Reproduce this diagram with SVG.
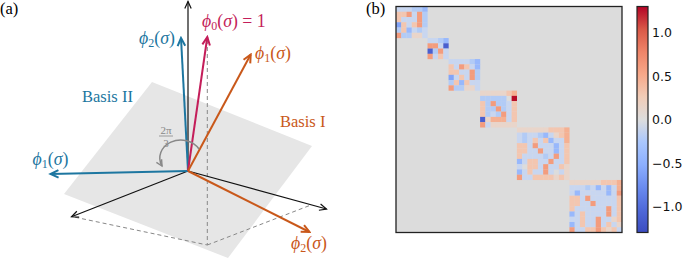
<svg xmlns="http://www.w3.org/2000/svg" width="685" height="258" viewBox="0 0 685 258">
<style>
.lab{font-family:"Liberation Serif","DejaVu Serif",serif;font-size:16.5px}
.phi{font-family:"Liberation Serif","DejaVu Serif",serif;font-size:17.8px}
.it{font-style:italic}
.sub{font-size:12px}
.tick{font-family:"DejaVu Sans","Liberation Sans",sans-serif;font-size:12.5px;fill:#111}
.ax{stroke:#111;stroke-width:1.2;fill:none}
.dash{stroke:#888;stroke-width:1;stroke-dasharray:4 3;fill:none}
.vb{stroke:#1d76a0;stroke-width:2;fill:none}
.vm{stroke:#c41e5a;stroke-width:2;fill:none}
.vo{stroke:#c9581a;stroke-width:2;fill:none}
.blk rect{width:1.02px;height:1.02px}
.q{fill:#e9d5ca}.p{fill:#f3c6b0}.h{fill:#f5b092}.o{fill:#f39c7e}.R{fill:#b70d28}
.l{fill:#c8d6f0}.m{fill:#b2cbf6}.n{fill:#98b8fc}.u{fill:#82a4f8}.D{fill:#4a5fcf}
</style>
<defs>
<marker id="mk" viewBox="-10 -6 12 12" refX="0" refY="0" markerWidth="12" markerHeight="12" orient="auto" markerUnits="userSpaceOnUse"><path d="M-7,-3.2 L0,0 L-7,3.2" fill="none" stroke="#111" stroke-width="1.2"/></marker>
<marker id="mb" viewBox="-10 -6 12 12" refX="0" refY="0" markerWidth="12" markerHeight="12" orient="auto" markerUnits="userSpaceOnUse"><path d="M-8,-3.8 L0,0 L-8,3.8" fill="none" stroke="#1d76a0" stroke-width="2"/></marker>
<marker id="mm" viewBox="-10 -6 12 12" refX="0" refY="0" markerWidth="12" markerHeight="12" orient="auto" markerUnits="userSpaceOnUse"><path d="M-8,-3.8 L0,0 L-8,3.8" fill="none" stroke="#c41e5a" stroke-width="2"/></marker>
<marker id="mo" viewBox="-10 -6 12 12" refX="0" refY="0" markerWidth="12" markerHeight="12" orient="auto" markerUnits="userSpaceOnUse"><path d="M-8,-3.8 L0,0 L-8,3.8" fill="none" stroke="#c9581a" stroke-width="2"/></marker>
<marker id="mg" viewBox="-10 -6 12 12" refX="0" refY="0" markerWidth="12" markerHeight="12" orient="auto" markerUnits="userSpaceOnUse"><path d="M-6,-3 L0,0 L-6,3" fill="none" stroke="#888" stroke-width="1.4"/></marker>
<linearGradient id="cw" x1="0" y1="1" x2="0" y2="0">
<stop offset="0" stop-color="#3b4cc0"/><stop offset="0.1" stop-color="#4f69d9"/><stop offset="0.2" stop-color="#6a8bef"/><stop offset="0.3" stop-color="#8caffe"/><stop offset="0.4" stop-color="#aac7fd"/><stop offset="0.5" stop-color="#dddddd"/><stop offset="0.6" stop-color="#f1ccb7"/><stop offset="0.7" stop-color="#f7a889"/><stop offset="0.8" stop-color="#ee8468"/><stop offset="0.9" stop-color="#d95847"/><stop offset="1" stop-color="#b40426"/>
</linearGradient>
</defs>
<rect width="685" height="258" fill="#fff"/>

<!-- Panel (a) -->
<text id="label-a" class="lab" x="0" y="14">(a)</text>
<polygon id="plane" points="152,82 312,146 228,258 64,194" fill="#e6e6e6"/>
<g id="connectors">
<path class="dash" d="M207.3,40 V245 L74,217 M207.3,245 L311,205"/>
<path class="ax" d="M188,171 V1.5" marker-end="url(#mk)"/>
<path class="ax" d="M188,171 L326.5,209" marker-end="url(#mk)"/>
<path class="ax" d="M188,171 L71.5,216.8" marker-end="url(#mk)"/>
<path class="vb" d="M188,171 L181,38" marker-end="url(#mb)"/>
<path class="vb" d="M188,171 L50.5,174" marker-end="url(#mb)"/>
<path class="vm" d="M188,171 L207.3,37" marker-end="url(#mm)"/>
<path class="vo" d="M188,171 L250.7,54.5" marker-end="url(#mo)"/>
<path class="vo" d="M188,171 L309.5,232" marker-end="url(#mo)"/>
<path d="M199,149 A21 18 0 0 0 162,166" fill="none" stroke="#888" stroke-width="1.5" marker-end="url(#mg)"/>
</g>
<g id="angle-label" fill="#888" font-family="Liberation Serif,DejaVu Serif,serif" font-size="11" text-anchor="middle">
<text x="166" y="134">2π</text>
<line x1="159" y1="136" x2="173" y2="136" stroke="#888" stroke-width="0.8"/>
<text x="166" y="146.5">3</text>
</g>
<g id="phi0" fill="#c41e5a"><text class="phi" x="202" y="27"><tspan class="it">ϕ</tspan><tspan class="sub" dy="3">0</tspan><tspan dy="-3">(</tspan><tspan class="it">σ</tspan>) = 1</text></g>
<g id="phi2-II" fill="#1d76a0"><text class="phi" x="139" y="43.5"><tspan class="it">ϕ</tspan><tspan class="sub" dy="3">2</tspan><tspan dy="-3">(</tspan><tspan class="it">σ</tspan>)</text></g>
<g id="phi1-I" fill="#c9581a"><text class="phi" x="255" y="59"><tspan class="it">ϕ</tspan><tspan class="sub" dy="3">1</tspan><tspan dy="-3">(</tspan><tspan class="it">σ</tspan>)</text></g>
<g id="basis-II" fill="#1d76a0"><text class="lab" x="82" y="102">Basis II</text></g>
<g id="basis-I" fill="#c9581a"><text class="lab" x="280" y="127">Basis I</text></g>
<g id="phi1-II" fill="#1d76a0"><text class="phi" x="32.5" y="165"><tspan class="it">ϕ</tspan><tspan class="sub" dy="3">1</tspan><tspan dy="-3">(</tspan><tspan class="it">σ</tspan>)</text></g>
<g id="phi2-I" fill="#c9581a"><text class="phi" x="291" y="249"><tspan class="it">ϕ</tspan><tspan class="sub" dy="3">2</tspan><tspan dy="-3">(</tspan><tspan class="it">σ</tspan>)</text></g>

<!-- Panel (b) -->
<text id="label-b" class="lab" x="366" y="14">(b)</text>
<g id="matrix">
<rect x="396" y="6.5" width="226" height="226" fill="#dcdcdc"/>
<g class="blk" transform="translate(396 6.5) scale(5.2558)">
<rect x="0" y="0" class="l"/><rect x="1" y="0" class="l"/><rect x="2" y="0" class="l"/><rect x="3" y="0" class="m"/><rect x="4" y="0" class="m"/><rect x="5" y="0" class="n"/>
<rect x="0" y="1" class="p"/><rect x="1" y="1" class="p"/><rect x="2" y="1" class="o"/><rect x="3" y="1" class="l"/><rect x="4" y="1" class="o"/><rect x="5" y="1" class="m"/>
<rect x="0" y="2" class="p"/><rect x="1" y="2" class="l"/><rect x="2" y="2" class="l"/><rect x="3" y="2" class="l"/><rect x="4" y="2" class="o"/><rect x="5" y="2" class="m"/>
<rect x="0" y="3" class="u"/><rect x="1" y="3" class="p"/><rect x="2" y="3" class="l"/><rect x="3" y="3" class="p"/><rect x="4" y="3" class="o"/><rect x="5" y="3" class="m"/>
<rect x="0" y="4" class="m"/><rect x="1" y="4" class="p"/><rect x="2" y="4" class="n"/><rect x="3" y="4" class="l"/><rect x="4" y="4" class="m"/><rect x="5" y="4" class="l"/>
<rect x="0" y="5" class="o"/><rect x="1" y="5" class="m"/><rect x="2" y="5" class="m"/><rect x="3" y="5" class="q"/><rect x="4" y="5" class="q"/><rect x="5" y="5" class="l"/>
</g>
<g class="blk" transform="translate(427.535 38.035) scale(5.2558)">
<rect x="0" y="0" class="l"/><rect x="1" y="0" class="l"/><rect x="2" y="0" class="m"/><rect x="3" y="0" class="n"/>
<rect x="0" y="1" class="o"/><rect x="1" y="1" class="o"/><rect x="2" y="1" class="l"/><rect x="3" y="1" class="D"/>
<rect x="0" y="2" class="D"/><rect x="1" y="2" class="m"/><rect x="2" y="2" class="o"/><rect x="3" y="2" class="l"/>
<rect x="0" y="3" class="o"/><rect x="1" y="3" class="l"/><rect x="2" y="3" class="p"/><rect x="3" y="3" class="l"/>
</g>
<g class="blk" transform="translate(448.558 59.058) scale(5.2558)">
<rect x="0" y="0" class="l"/><rect x="1" y="0" class="l"/><rect x="2" y="0" class="l"/><rect x="3" y="0" class="l"/><rect x="4" y="0" class="m"/><rect x="5" y="0" class="n"/>
<rect x="0" y="1" class="p"/><rect x="1" y="1" class="l"/><rect x="2" y="1" class="o"/><rect x="3" y="1" class="p"/><rect x="4" y="1" class="l"/><rect x="5" y="1" class="n"/>
<rect x="0" y="2" class="p"/><rect x="1" y="2" class="p"/><rect x="2" y="2" class="l"/><rect x="3" y="2" class="l"/><rect x="4" y="2" class="o"/><rect x="5" y="2" class="m"/>
<rect x="0" y="3" class="u"/><rect x="1" y="3" class="l"/><rect x="2" y="3" class="p"/><rect x="3" y="3" class="l"/><rect x="4" y="3" class="o"/><rect x="5" y="3" class="m"/>
<rect x="0" y="4" class="m"/><rect x="1" y="4" class="p"/><rect x="2" y="4" class="n"/><rect x="3" y="4" class="p"/><rect x="4" y="4" class="l"/><rect x="5" y="4" class="l"/>
<rect x="0" y="5" class="o"/><rect x="1" y="5" class="m"/><rect x="2" y="5" class="m"/><rect x="3" y="5" class="q"/><rect x="4" y="5" class="q"/><rect x="5" y="5" class="l"/>
</g>
<g class="blk" transform="translate(480.093 90.593) scale(5.2558)">
<rect x="0" y="0" class="q"/><rect x="1" y="0" class="q"/><rect x="2" y="0" class="q"/><rect x="3" y="0" class="q"/><rect x="4" y="0" class="q"/><rect x="5" y="0" class="p"/><rect x="6" y="0" class="h"/>
<rect x="0" y="1" class="m"/><rect x="1" y="1" class="m"/><rect x="2" y="1" class="m"/><rect x="3" y="1" class="m"/><rect x="4" y="1" class="m"/><rect x="6" y="1" class="R"/>
<rect x="0" y="2" class="p"/><rect x="1" y="2" class="m"/><rect x="2" y="2" class="o"/><rect x="3" y="2" class="m"/><rect x="4" y="2" class="m"/><rect x="5" y="2" class="l"/><rect x="6" y="2" class="p"/>
<rect x="0" y="3" class="p"/><rect x="1" y="3" class="m"/><rect x="2" y="3" class="m"/><rect x="3" y="3" class="o"/><rect x="4" y="3" class="m"/><rect x="5" y="3" class="l"/><rect x="6" y="3" class="p"/>
<rect x="0" y="4" class="p"/><rect x="1" y="4" class="m"/><rect x="2" y="4" class="l"/><rect x="3" y="4" class="m"/><rect x="4" y="4" class="o"/><rect x="5" y="4" class="l"/><rect x="6" y="4" class="p"/>
<rect x="0" y="5" class="D"/><rect x="1" y="5" class="q"/><rect x="2" y="5" class="h"/><rect x="3" y="5" class="h"/><rect x="4" y="5" class="h"/><rect x="5" y="5" class="l"/><rect x="6" y="5" class="p"/>
<rect x="0" y="6" class="o"/><rect x="1" y="6" class="l"/><rect x="2" y="6" class="q"/><rect x="3" y="6" class="q"/><rect x="4" y="6" class="q"/><rect x="5" y="6" class="q"/><rect x="6" y="6" class="q"/>
</g>
<g class="blk" transform="translate(516.88 127.38) scale(5.2558)">
<rect x="0" y="0" class="q"/><rect x="1" y="0" class="q"/><rect x="2" y="0" class="q"/><rect x="3" y="0" class="q"/><rect x="4" y="0" class="q"/><rect x="5" y="0" class="q"/><rect x="6" y="0" class="p"/><rect x="7" y="0" class="p"/><rect x="8" y="0" class="p"/><rect x="9" y="0" class="h"/>
<rect x="0" y="1" class="l"/><rect x="1" y="1" class="m"/><rect x="2" y="1" class="l"/><rect x="3" y="1" class="l"/><rect x="4" y="1" class="m"/><rect x="5" y="1" class="n"/><rect x="6" y="1" class="l"/><rect x="7" y="1" class="q"/><rect x="8" y="1" class="p"/><rect x="9" y="1" class="h"/>
<rect x="0" y="2" class="l"/><rect x="1" y="2" class="m"/><rect x="2" y="2" class="l"/><rect x="3" y="2" class="p"/><rect x="4" y="2" class="l"/><rect x="5" y="2" class="p"/><rect x="6" y="2" class="n"/><rect x="7" y="2" class="l"/><rect x="8" y="2" class="l"/><rect x="9" y="2" class="h"/>
<rect x="0" y="3" class="p"/><rect x="1" y="3" class="p"/><rect x="2" y="3" class="l"/><rect x="3" y="3" class="o"/><rect x="4" y="3" class="l"/><rect x="5" y="3" class="l"/><rect x="6" y="3" class="l"/><rect x="7" y="3" class="n"/><rect x="8" y="3" class="l"/><rect x="9" y="3" class="p"/>
<rect x="0" y="4" class="p"/><rect x="1" y="4" class="p"/><rect x="2" y="4" class="l"/><rect x="3" y="4" class="l"/><rect x="4" y="4" class="o"/><rect x="5" y="4" class="l"/><rect x="6" y="4" class="l"/><rect x="7" y="4" class="n"/><rect x="8" y="4" class="l"/><rect x="9" y="4" class="p"/>
<rect x="0" y="5" class="p"/><rect x="1" y="5" class="l"/><rect x="2" y="5" class="l"/><rect x="3" y="5" class="l"/><rect x="4" y="5" class="l"/><rect x="5" y="5" class="m"/><rect x="6" y="5" class="l"/><rect x="7" y="5" class="o"/><rect x="8" y="5" class="l"/><rect x="9" y="5" class="p"/>
<rect x="0" y="6" class="n"/><rect x="1" y="6" class="l"/><rect x="2" y="6" class="p"/><rect x="3" y="6" class="p"/><rect x="4" y="6" class="l"/><rect x="5" y="6" class="l"/><rect x="6" y="6" class="o"/><rect x="7" y="6" class="l"/><rect x="8" y="6" class="l"/><rect x="9" y="6" class="p"/>
<rect x="0" y="7" class="l"/><rect x="2" y="7" class="p"/><rect x="3" y="7" class="p"/><rect x="4" y="7" class="l"/><rect x="5" y="7" class="o"/><rect x="6" y="7" class="l"/><rect x="7" y="7" class="l"/><rect x="8" y="7" class="p"/><rect x="9" y="7" class="q"/>
<rect x="0" y="8" class="n"/><rect x="1" y="8" class="l"/><rect x="2" y="8" class="p"/><rect x="3" y="8" class="l"/><rect x="4" y="8" class="l"/><rect x="5" y="8" class="o"/><rect x="6" y="8" class="l"/><rect x="8" y="8" class="l"/><rect x="9" y="8" class="q"/>
<rect x="0" y="9" class="o"/><rect x="1" y="9" class="l"/><rect x="2" y="9" class="l"/><rect x="3" y="9" class="p"/><rect x="4" y="9" class="p"/><rect x="5" y="9" class="p"/><rect x="6" y="9" class="p"/><rect x="7" y="9" class="q"/><rect x="8" y="9" class="p"/><rect x="9" y="9" class="q"/>
</g>
<g class="blk" transform="translate(569.44 179.94) scale(5.2558)">
<rect x="0" y="0" class="q"/><rect x="1" y="0" class="q"/><rect x="2" y="0" class="q"/><rect x="3" y="0" class="q"/><rect x="4" y="0" class="q"/><rect x="5" y="0" class="q"/><rect x="6" y="0" class="p"/><rect x="7" y="0" class="p"/><rect x="8" y="0" class="p"/><rect x="9" y="0" class="h"/>
<rect x="0" y="1" class="l"/><rect x="1" y="1" class="l"/><rect x="2" y="1" class="l"/><rect x="3" y="1" class="m"/><rect x="4" y="1" class="l"/><rect x="5" y="1" class="n"/><rect x="6" y="1" class="l"/><rect x="7" y="1" class="n"/><rect x="8" y="1" class="l"/><rect x="9" y="1" class="h"/>
<rect x="0" y="2" class="l"/><rect x="1" y="2" class="n"/><rect x="2" y="2" class="l"/><rect x="3" y="2" class="l"/><rect x="4" y="2" class="l"/><rect x="5" y="2" class="l"/><rect x="6" y="2" class="l"/><rect x="7" y="2" class="n"/><rect x="8" y="2" class="l"/><rect x="9" y="2" class="o"/>
<rect x="0" y="3" class="p"/><rect x="1" y="3" class="p"/><rect x="2" y="3" class="l"/><rect x="3" y="3" class="o"/><rect x="4" y="3" class="l"/><rect x="5" y="3" class="l"/><rect x="6" y="3" class="l"/><rect x="7" y="3" class="l"/><rect x="8" y="3" class="l"/><rect x="9" y="3" class="p"/>
<rect x="0" y="4" class="p"/><rect x="1" y="4" class="p"/><rect x="2" y="4" class="l"/><rect x="3" y="4" class="l"/><rect x="4" y="4" class="o"/><rect x="5" y="4" class="l"/><rect x="6" y="4" class="l"/><rect x="7" y="4" class="l"/><rect x="8" y="4" class="l"/><rect x="9" y="4" class="p"/>
<rect x="0" y="5" class="p"/><rect x="1" y="5" class="l"/><rect x="2" y="5" class="l"/><rect x="3" y="5" class="l"/><rect x="4" y="5" class="l"/><rect x="5" y="5" class="l"/><rect x="6" y="5" class="l"/><rect x="7" y="5" class="o"/><rect x="8" y="5" class="l"/><rect x="9" y="5" class="p"/>
<rect x="0" y="6" class="n"/><rect x="1" y="6" class="l"/><rect x="2" y="6" class="p"/><rect x="3" y="6" class="l"/><rect x="4" y="6" class="l"/><rect x="5" y="6" class="l"/><rect x="6" y="6" class="l"/><rect x="7" y="6" class="o"/><rect x="8" y="6" class="l"/><rect x="9" y="6" class="p"/>
<rect x="0" y="7" class="l"/><rect x="1" y="7" class="l"/><rect x="2" y="7" class="p"/><rect x="3" y="7" class="l"/><rect x="4" y="7" class="l"/><rect x="5" y="7" class="o"/><rect x="6" y="7" class="l"/><rect x="7" y="7" class="l"/><rect x="8" y="7" class="q"/><rect x="9" y="7" class="p"/>
<rect x="0" y="8" class="n"/><rect x="1" y="8" class="l"/><rect x="2" y="8" class="p"/><rect x="3" y="8" class="l"/><rect x="4" y="8" class="l"/><rect x="5" y="8" class="o"/><rect x="6" y="8" class="l"/><rect x="7" y="8" class="p"/><rect x="8" y="8" class="l"/><rect x="9" y="8" class="q"/>
<rect x="0" y="9" class="o"/><rect x="1" y="9" class="l"/><rect x="2" y="9" class="l"/><rect x="3" y="9" class="p"/><rect x="4" y="9" class="p"/><rect x="5" y="9" class="o"/><rect x="6" y="9" class="p"/><rect x="7" y="9" class="q"/><rect x="8" y="9" class="p"/><rect x="9" y="9" class="l"/>
</g>
<rect x="396" y="6.5" width="226" height="226" fill="none" stroke="#222" stroke-width="1.3"/>
</g>
<g id="colorbar">
<rect x="637" y="6.5" width="11" height="226" fill="url(#cw)" stroke="#222" stroke-width="1.2"/>
<text class="tick" x="652" y="37.2">1.0</text>
<text class="tick" x="652" y="80.7">0.5</text>
<text class="tick" x="652" y="124.2">0.0</text>
<text class="tick" x="652" y="167.7">−0.5</text>
<text class="tick" x="652" y="211.2">−1.0</text>
</g>
</svg>
